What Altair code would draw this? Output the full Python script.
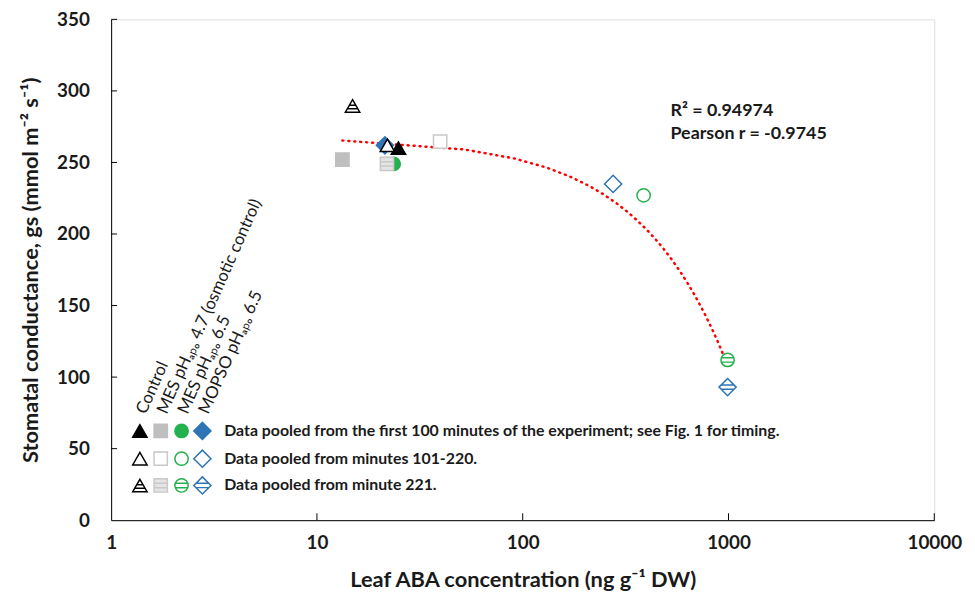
import altair as alt
import pandas as pd

# ---------------- data ----------------
treatments = ["Control", "MES pHapo 4.7", "MES pHapo 6.5", "MOPSO pHapo 6.5"]
periods = ["first 100 min", "min 101-220", "from min 221"]

# leaf ABA (ng g-1 DW) and gs (mmol m-2 s-1), one value per treatment
aba_first = [24.9, 13.3, 23.6, 21.4]
gs_first = [260.0, 252.0, 249.0, 262.0]
aba_mid = [22.0, 39.7, 387.0, 275.0]
gs_mid = [262.0, 264.5, 227.0, 235.0]
aba_late = [14.9, 21.9, 990.0, 990.0]
gs_late = [289.5, 249.0, 112.0, 93.0]

x_ticks = [1, 10, 100, 1000, 10000]
y_ticks = [0, 50, 100, 150, 200, 250, 300, 350]

x_title = "Leaf ABA concentration (ng g\u207b\u00b9 DW)"
y_title = "Stomatal conductance, gs (mmol m\u207b\u00b2 s\u207b\u00b9)"
r2_text = "R\u00b2 = 0.94974"
pearson_text = "Pearson r = -0.9745"
treatment_labels = [
    "Control",
    "MES pH\u2090\u209a\u2092 4.7 (osmotic control)",
    "MES pH\u2090\u209a\u2092 6.5",
    "MOPSO pH\u2090\u209a\u2092 6.5",
]
legend_texts = [
    "Data pooled from the first 100 minutes of the experiment; see Fig. 1 for timing.",
    "Data pooled from minutes 101-220.",
    "Data pooled from minute 221.",
]

# ---------------- styles ----------------
FONT = "Lato"
TXT = "#1a1a1a"
colors = ["#000000", "#BFBFBF", "#22B14C", "#2E75B6"]
open_colors = ["#000000", "#C8C8C8", "#22B14C", "#2E75B6"]
base_shapes = ["triangle-up", "square", "circle", "diamond"]
hatched_shapes = [
    "M0,-0.866L1,0.866L-1,0.866Z M-0.42,-0.1L0.42,-0.1 M-0.7,0.4L0.7,0.4",
    "M-1,-1L1,-1L1,1L-1,1Z M-1,-0.33L1,-0.33 M-1,0.33L1,0.33",
    "M1,0A1,1,0,1,1,-1,0A1,1,0,1,1,1,0Z M-0.94,-0.33L0.94,-0.33 M-0.94,0.33L0.94,0.33",
    "M0,-1L1,0L0,1L-1,0Z M-0.75,-0.25L0.75,-0.25 M-0.75,0.25L0.75,0.25",
]
sizes = [210, 180, 180, 300]


def style(t_idx, p_idx):
    if p_idx == 0:
        return dict(shape=base_shapes[t_idx], fill=colors[t_idx], stroke=colors[t_idx])
    if p_idx == 1:
        return dict(shape=base_shapes[t_idx], fill="#ffffff", stroke=open_colors[t_idx])
    fill = "#E4E4E4" if t_idx == 1 else "#ffffff"
    return dict(shape=hatched_shapes[t_idx], fill=fill, stroke=open_colors[t_idx])


rows = []
for p_idx, (abas, gss) in enumerate([(aba_first, gs_first), (aba_mid, gs_mid), (aba_late, gs_late)]):
    for t_idx, t in enumerate(treatments):
        r = dict(aba=abas[t_idx], gs=gss[t_idx], treatment=t, period=periods[p_idx], size=sizes[t_idx])
        r.update(style(t_idx, p_idx))
        rows.append(r)
pts = pd.DataFrame(rows)

W, H = 830, 505
xscale = alt.Scale(type="log", domain=[1, 10000])
yscale = alt.Scale(domain=[0, 350], nice=False)

base = alt.Chart(pts)

points = base.mark_point(filled=True, opacity=1, strokeWidth=1.5).encode(
    x=alt.X("aba:Q", scale=xscale, axis=alt.Axis(
        values=x_ticks, format="d", title=x_title, ticks=False, tickSize=0, grid=False,
        labelPadding=14, labelFlush=False, labelOverlap=False,
        labelFontSize=19, labelFontWeight="bold", labelColor=TXT,
        titleFontSize=22, titleFontWeight="bold", titleColor=TXT, titlePadding=17,
        domainColor="#000000", domainWidth=1)),
    y=alt.Y("gs:Q", scale=yscale, axis=alt.Axis(
        values=y_ticks, title=y_title, ticks=False, tickSize=0, grid=False,
        labelPadding=22, labelOverlap=False,
        labelFontSize=19, labelFontWeight="bold", labelColor=TXT,
        titleFontSize=22, titleFontWeight="bold", titleColor=TXT, titlePadding=14,
        domainColor="#000000", domainWidth=1)),
    shape=alt.Shape("shape:N", scale=None),
    fill=alt.Fill("fill:N", scale=None),
    stroke=alt.Stroke("stroke:N", scale=None),
    size=alt.Size("size:Q", scale=None),
)

trend = base.transform_regression("aba", "gs", method="poly", order=1).mark_line(
    color="#FF0000", strokeWidth=2.5, strokeDash=[1, 5], strokeCap="round"
).encode(x=alt.X("aba:Q", scale=xscale), y=alt.Y("gs:Q", scale=yscale))

xt = alt.Chart(pd.DataFrame({"aba": x_ticks[1:]})).mark_rule(color="#000000", strokeWidth=1).encode(
    x=alt.X("aba:Q", scale=xscale), y=alt.value(H), y2=alt.value(H - 7))
yt = alt.Chart(pd.DataFrame({"gs": y_ticks[1:]})).mark_rule(color="#000000", strokeWidth=1).encode(
    y=alt.Y("gs:Q", scale=yscale), x=alt.value(0), x2=alt.value(6))

one = pd.DataFrame({"k": [0]})
layers = [xt, yt, trend, points]

# statistics text
layers.append(alt.Chart(one).mark_text(x=564, y=97, text=r2_text, align="left", baseline="alphabetic",
                                       fontSize=18, fontWeight="bold", color=TXT, font=FONT))
layers.append(alt.Chart(one).mark_text(x=564, y=121, text=pearson_text, align="left", baseline="alphabetic",
                                       fontSize=18, fontWeight="bold", color=TXT, font=FONT))

# custom legend
col_x = [29, 50, 71, 92]
row_y = [415, 443, 470]
for p_idx in range(3):
    for t_idx in range(4):
        s = style(t_idx, p_idx)
        layers.append(alt.Chart(one).mark_point(
            x=col_x[t_idx], y=row_y[p_idx], shape=s["shape"], fill=s["fill"], stroke=s["stroke"],
            filled=True, opacity=1, strokeWidth=1.5, size=sizes[t_idx]))
    layers.append(alt.Chart(one).mark_text(
        x=114, y=row_y[p_idx], text=legend_texts[p_idx], align="left", baseline="middle",
        fontSize=16, fontWeight="bold", color=TXT, font=FONT))

for t_idx in range(4):
    layers.append(alt.Chart(one).mark_text(
        x=col_x[t_idx] + 6, y=row_y[0] - 16, text=treatment_labels[t_idx], align="left",
        baseline="alphabetic", angle=294, fontSize=17, color=TXT, font=FONT))

chart = alt.layer(*layers).properties(
    width=W, height=H,
    autosize=alt.AutoSizeParams(type="none"),
    padding={"left": 104, "top": 9, "right": 33, "bottom": 76},
).configure_view(stroke=None).configure(font=FONT)

chart.save("out.html", embed_options={"renderer": "svg", "actions": False})
